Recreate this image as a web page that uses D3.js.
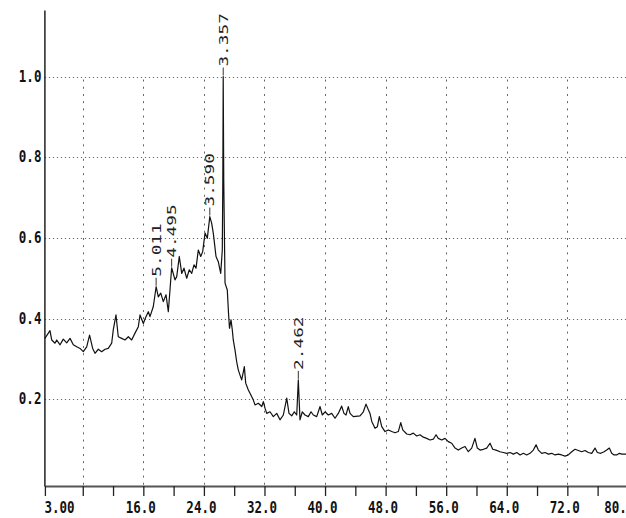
<!DOCTYPE html>
<html>
<head>
<meta charset="utf-8">
<script src="https://cdn.jsdelivr.net/npm/d3@7"></script>
<style>
  body { margin: 0; background: #fff; }
  svg { display: block; }
</style>
</head>
<body>
<div id="chart"></div>
<script>
// Set dimensions
const width = 626;
const height = 518;

// Diffraction scan: 2-theta (deg) and normalised intensity
const twoTheta = [3.0, 3.67, 3.90, 4.33, 4.56, 5.00, 5.43, 5.88, 6.32, 6.75, 7.20, 7.64, 8.07, 8.52, 8.90, 9.31, 9.62, 10.05, 10.50, 10.94,
  11.37, 11.82, 12.03, 12.39, 12.69, 13.14, 13.58, 14.02, 14.46, 14.90, 15.34, 15.56, 16.00, 16.29, 16.66, 16.88, 17.32, 17.69, 17.98, 18.30,
  18.64, 19.00, 19.30, 19.52, 19.74, 20.18, 20.41, 20.75, 21.07, 21.37, 21.73, 22.07, 22.39, 22.69, 22.96, 23.26, 23.58, 23.84, 24.15, 24.45,
  24.78, 25.03, 25.24, 25.60, 25.90, 26.22, 26.43, 26.50, 26.55, 26.62, 26.79, 27.09, 27.25, 27.38, 27.58, 27.75, 27.88, 28.11, 28.33, 28.54,
  28.77, 28.99, 29.21, 29.34, 29.52, 29.87, 30.09, 30.53, 30.75, 31.19, 31.64, 31.85, 32.07, 32.30, 32.73, 33.17, 33.62, 34.05, 34.49, 34.94,
  35.24, 35.60, 35.94, 36.26, 36.47, 36.69, 37.00, 37.35, 37.79, 38.15, 38.45, 38.90, 39.34, 39.64, 40.00, 40.43, 40.88, 41.32, 41.75, 42.20,
  42.50, 42.77, 43.07, 43.30, 43.73, 44.62, 45.06, 45.41, 45.72, 45.94, 46.17, 46.60, 46.91, 47.17, 47.49, 47.92, 48.36, 48.81, 49.24, 49.68,
  50.00, 50.26, 50.79, 51.22, 51.66, 52.11, 52.54, 52.98, 53.43, 53.86, 54.30, 54.66, 54.96, 55.41, 55.85, 56.28, 56.73, 57.17, 57.60, 58.05,
  58.49, 58.92, 59.37, 59.80, 60.11, 60.47, 60.91, 61.35, 61.79, 62.15, 62.58, 63.11, 63.55, 64.00, 64.44, 64.87, 65.32, 65.76, 66.19, 66.64,
  67.07, 67.51, 67.87, 68.17, 68.62, 69.06, 69.49, 69.94, 70.38, 70.81, 71.26, 71.70, 72.13, 72.58, 73.02, 73.45, 73.90, 74.34, 74.77, 75.22,
  75.66, 75.96, 76.41, 76.85, 77.20, 77.55, 77.86, 78.17, 78.52, 78.87, 79.22, 79.75];

const intensity = [0.351, 0.370, 0.347, 0.339, 0.347, 0.335, 0.349, 0.340, 0.351, 0.335, 0.330, 0.326, 0.318, 0.330, 0.359, 0.326, 0.314, 0.324, 0.318, 0.324,
  0.326, 0.339, 0.372, 0.409, 0.355, 0.351, 0.347, 0.355, 0.347, 0.364, 0.380, 0.409, 0.388, 0.402, 0.417, 0.405, 0.430, 0.479, 0.454, 0.463,
  0.442, 0.459, 0.417, 0.471, 0.526, 0.496, 0.504, 0.554, 0.512, 0.525, 0.500, 0.521, 0.512, 0.533, 0.525, 0.570, 0.554, 0.566, 0.612, 0.599,
  0.653, 0.636, 0.612, 0.554, 0.541, 0.512, 0.570, 0.744, 1.000, 0.744, 0.488, 0.471, 0.414, 0.376, 0.397, 0.372, 0.347, 0.322, 0.293, 0.273,
  0.260, 0.248, 0.268, 0.281, 0.240, 0.223, 0.215, 0.198, 0.186, 0.190, 0.182, 0.194, 0.178, 0.165, 0.169, 0.157, 0.165, 0.149, 0.161, 0.203,
  0.165, 0.159, 0.169, 0.161, 0.248, 0.149, 0.169, 0.161, 0.157, 0.169, 0.161, 0.157, 0.182, 0.161, 0.169, 0.161, 0.165, 0.153, 0.165, 0.183,
  0.165, 0.161, 0.182, 0.165, 0.157, 0.159, 0.169, 0.188, 0.174, 0.165, 0.145, 0.128, 0.132, 0.157, 0.132, 0.120, 0.124, 0.120, 0.117, 0.120,
  0.142, 0.124, 0.114, 0.112, 0.116, 0.109, 0.112, 0.106, 0.103, 0.099, 0.101, 0.112, 0.103, 0.099, 0.103, 0.095, 0.091, 0.079, 0.074, 0.079,
  0.083, 0.070, 0.079, 0.103, 0.079, 0.074, 0.076, 0.079, 0.091, 0.076, 0.074, 0.070, 0.068, 0.066, 0.068, 0.064, 0.068, 0.062, 0.066, 0.062,
  0.066, 0.074, 0.087, 0.074, 0.066, 0.068, 0.064, 0.066, 0.062, 0.064, 0.062, 0.059, 0.062, 0.070, 0.076, 0.073, 0.070, 0.073, 0.068, 0.066,
  0.079, 0.068, 0.066, 0.070, 0.074, 0.079, 0.066, 0.062, 0.062, 0.066, 0.064, 0.064];

// Marked peaks (d-spacing labels)
const peakAngles = [17.69, 19.74, 24.78, 26.55, 36.47];
const peakValues = [0.479, 0.526, 0.653, 1.000, 0.248];
const peakLabels = ["5.011", "4.495", "3.590", "3.357", "2.462"];

// Axis ticks
const xTicks = [3, 8, 12, 16, 20, 24, 28, 32, 36, 40, 44, 48, 52, 56, 60, 64, 68, 72, 76, 80];
const xLabelTicks = [16, 24, 32, 40, 48, 56, 64, 72, 80];
const xGrid = [8, 16, 24, 32, 40, 48, 56, 64, 72, 80];
const yTicks = [0.2, 0.4, 0.6, 0.8, 1.0];

const monoFont = "'DejaVu Sans Mono', 'Liberation Mono', monospace";

const svg = d3.select('#chart')
    .append('svg')
    .attr('width', width)
    .attr('height', height);

// Scales
const x = d3.scaleLinear()
    .domain([3, 80])
    .range([44.9, 627.9]);

const y = d3.scaleLinear()
    .domain([-0.015, 1.165])
    .range([486, 10]);

// Dotted grid
svg.append('g')
    .selectAll('line')
    .data(yTicks)
    .join('line')
      .attr('x1', x(3))
      .attr('x2', width)
      .attr('y1', d => Math.round(y(d)) + 0.5)
      .attr('y2', d => Math.round(y(d)) + 0.5)
      .attr('stroke', '#666')
      .attr('stroke-width', 1)
      .attr('stroke-dasharray', '1.2,2.8');

svg.append('g')
    .selectAll('line')
    .data(xGrid)
    .join('line')
      .attr('x1', d => Math.round(x(d)) + 0.5)
      .attr('x2', d => Math.round(x(d)) + 0.5)
      .attr('y1', y(1.0) + 3)
      .attr('y2', y(-0.015))
      .attr('stroke', '#666')
      .attr('stroke-width', 1)
      .attr('stroke-dasharray', '2,5.2');

// X axis
const xAxis = svg.append('g')
    .attr('transform', `translate(0,${y(-0.015)})`)
    .call(d3.axisBottom(x)
        .tickValues(xTicks)
        .tickSize(10)
        .tickSizeOuter(0)
        .tickFormat(d => d === 3 ? d.toFixed(2) : (xLabelTicks.includes(d) ? d.toFixed(1) : '')));

xAxis.select('.domain').attr('stroke', '#555').attr('stroke-width', 2);
xAxis.selectAll('.tick line').attr('stroke', '#222').attr('stroke-width', 1.3);
// tall narrow glyphs, like the instrument's printer font
xAxis.selectAll('.tick text')
    .attr('y', 0)
    .attr('dy', '0.71em')
    .attr('transform', d => `translate(${d === 3 ? -1 : (d === 80 ? 6 : -3)},15.5) scale(1,1.25)`)
    .attr('text-anchor', d => d === 3 ? 'start' : (d === 80 ? 'end' : 'middle'))
    .attr('font-family', monoFont)
    .attr('font-weight', 'bold')
    .attr('font-size', 12.5)
    .attr('fill', '#111');

// Y axis
const yAxis = svg.append('g')
    .attr('transform', `translate(${x(3) - 0.5},0)`)
    .call(d3.axisLeft(y)
        .tickValues(yTicks)
        .tickSize(0)
        .tickFormat(d3.format('.1f')));

yAxis.select('.domain').attr('stroke', '#222').attr('stroke-width', 1.5);
yAxis.selectAll('.tick text')
    .attr('x', 0)
    .attr('dy', '0.3em')
    .attr('transform', 'translate(-3,0) scale(1,1.25)')
    .attr('font-family', monoFont)
    .attr('font-weight', 'bold')
    .attr('font-size', 12.5)
    .attr('fill', '#111');

// Pattern line
const line = d3.line()
    .x((d, i) => x(twoTheta[i]))
    .y(d => y(d));

svg.append('path')
    .datum(intensity)
    .attr('fill', 'none')
    .attr('stroke', '#111')
    .attr('stroke-width', 1.2)
    .attr('stroke-linejoin', 'round')
    .attr('d', line);

// Peak labels: short leader up from the peak, then rotated d-spacing
const peaks = svg.append('g');

peaks.selectAll('line')
    .data(peakLabels)
    .join('line')
      .attr('x1', (d, i) => x(peakAngles[i]))
      .attr('x2', (d, i) => x(peakAngles[i]))
      .attr('y1', (d, i) => y(peakValues[i]) - 1)
      .attr('y2', (d, i) => y(peakValues[i]) - 9)
      .attr('stroke', '#333')
      .attr('stroke-width', 1);

peaks.selectAll('text')
    .data(peakLabels)
    .join('text')
      .attr('transform', (d, i) => `translate(${x(peakAngles[i])},${y(peakValues[i]) - 10}) rotate(-90) scale(1.42,1)`)
      .attr('dy', '0.36em')
      .attr('text-anchor', 'start')
      .attr('font-family', monoFont)
      .attr('font-size', 12.5)
      .attr('fill', '#222')
      .text(d => d);
</script>
</body>
</html>
